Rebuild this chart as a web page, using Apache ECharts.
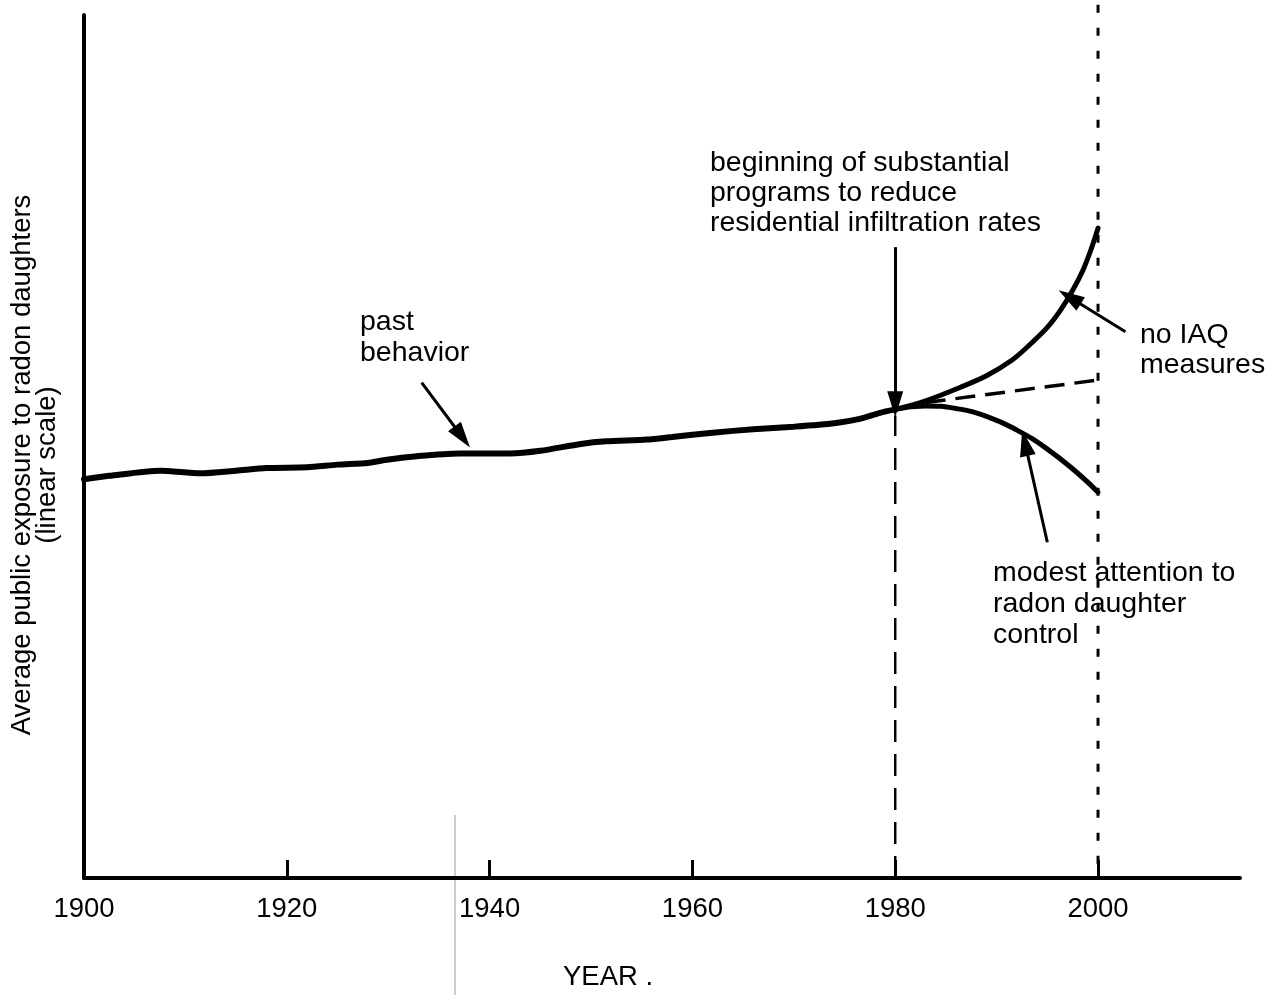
<!DOCTYPE html>
<html>
<head>
<meta charset="utf-8">
<script src="https://cdn.jsdelivr.net/npm/echarts@6/dist/echarts.min.js"></script>
<style>
  html, body { margin: 0; padding: 0; background: #fff; }
  #chart { width: 1276px; height: 995px; }
</style>
</head>
<body>
<div id="chart"></div>
<script>
// past behavior (linear scale, arbitrary units 0-100)
const pastYears = [1900, 1902.5, 1907.5, 1911.5, 1915, 1918, 1922, 1925, 1928, 1929.5, 1933, 1937, 1942, 1945, 1949, 1951.5, 1955.5, 1958, 1962, 1966, 1970, 1974, 1976.5, 1978.5, 1980]
const pastValues = [46.2, 46.6, 47.2, 46.9, 47.2, 47.5, 47.6, 47.9, 48.1, 48.4, 48.9, 49.2, 49.2, 49.5, 50.3, 50.6, 50.8, 51.1, 51.6, 52.0, 52.3, 52.7, 53.2, 53.9, 54.3]

// projections after 1980
const noIaqYears = [1980, 1983, 1986.5, 1989, 1991.5, 1993, 1995, 1996.3, 1997.5, 1998.5, 1999.3, 2000]
const noIaqValues = [54.3, 55.3, 56.9, 58.2, 60.0, 61.5, 63.8, 65.8, 68.1, 70.4, 72.8, 75.3]
const modestYears = [1980, 1983, 1986, 1989, 1992, 1995, 1998, 2000]
const modestValues = [54.3, 54.7, 54.4, 53.5, 51.9, 49.7, 46.9, 44.7]
const middleYears = [1983, 2000]
const middleValues = [55.1, 57.7]

// reference verticals
const startYear = 1980
const startTop = 53.6
const endYear = 2000
const endTop = 101.2

const tickYears = [1920, 1940, 1960, 1980, 2000]
const labelYears = [1900, 1920, 1940, 1960, 1980, 2000]

// annotation arrows: [tailYear, tailValue, headYear, headValue]
const arrows = [
  [1933.3, 57.4, 1937.3, 51.1],
  [1980, 73.1, 1980, 54.9],
  [2002.7, 63.3, 1997.2, 67.3],
  [1995.0, 38.9, 1992.8, 50.4]
]

const FONT = '"Liberation Sans", Arial, Helvetica, sans-serif'
const zip = (xs, ys) => xs.map((x, i) => [x, ys[i]])

const chart = echarts.init(document.getElementById('chart'))

chart.setOption({
  backgroundColor: '#fff',
  animation: false,
  grid: { left: 84, right: 36, top: 15, bottom: 117 },
  xAxis: {
    type: 'value',
    min: 1900,
    max: 2014,
    interval: 20,
    axisLine: { lineStyle: { color: '#000', width: 4 } },
    axisTick: {
      inside: true,
      length: 18,
      customValues: tickYears,
      lineStyle: { color: '#000', width: 3 }
    },
    axisLabel: {
      customValues: labelYears,
      formatter: v => String(v),
      color: '#000',
      fontSize: 27.5,
      fontFamily: FONT,
      margin: 17
    },
    splitLine: { show: false }
  },
  yAxis: {
    type: 'value',
    min: 0,
    max: 100,
    axisLine: { show: true, lineStyle: { color: '#000', width: 4 } },
    axisTick: { show: false },
    axisLabel: { show: false },
    splitLine: { show: false }
  },
  series: [
    {
      name: 'past behavior',
      type: 'line',
      data: zip(pastYears, pastValues),
      smooth: 0.25,
      showSymbol: false,
      lineStyle: { color: '#000', width: 6, cap: 'round' },
      markLine: {
        silent: true,
        symbol: ['none', 'triangle'],
        symbolSize: [16, 26],
        label: { show: false },
        lineStyle: { color: '#000', width: 3, type: 'solid' },
        data: arrows.map(a => [{ coord: [a[0], a[1]] }, { coord: [a[2], a[3]] }])
      }
    },
    {
      name: 'no IAQ measures',
      type: 'line',
      data: zip(noIaqYears, noIaqValues),
      smooth: 0.3,
      showSymbol: false,
      lineStyle: { color: '#000', width: 5, cap: 'round' }
    },
    {
      name: 'modest attention',
      type: 'line',
      data: zip(modestYears, modestValues),
      smooth: 0.5,
      showSymbol: false,
      lineStyle: { color: '#000', width: 5, cap: 'round' }
    },
    {
      name: 'middle',
      type: 'line',
      data: zip(middleYears, middleValues),
      showSymbol: false,
      lineStyle: { color: '#000', width: 3.5, type: [20, 10] }
    },
    {
      name: '1980 marker',
      type: 'line',
      data: [[startYear, 0], [startYear, startTop]],
      showSymbol: false,
      lineStyle: { color: '#000', width: 2.5, type: [22, 12] }
    },
    {
      name: '2000 marker',
      type: 'line',
      data: [[endYear, endTop], [endYear, 0]],
      clip: false,
      showSymbol: false,
      lineStyle: { color: '#000', width: 3, type: [8, 15] }
    }
  ],
  graphic: [
    {
      type: 'text', x: 35, y: 465, rotation: Math.PI / 2,
      style: {
        text: 'Average public exposure to radon daughters\n(linear scale)',
        fill: '#000', font: '27.5px ' + FONT, lineHeight: 25,
        align: 'center', verticalAlign: 'middle'
      }
    },
    {
      type: 'text', left: 360, top: 307,
      style: { text: 'past\nbehavior', fill: '#000', font: '28.5px ' + FONT, lineHeight: 31 }
    },
    {
      type: 'text', left: 710, top: 148,
      style: { text: 'beginning of substantial\nprograms to reduce\nresidential infiltration rates', fill: '#000', font: '28.5px ' + FONT, lineHeight: 30 }
    },
    {
      type: 'text', left: 1140, top: 320,
      style: { text: 'no IAQ\nmeasures', fill: '#000', font: '28.5px ' + FONT, lineHeight: 30 }
    },
    {
      type: 'text', left: 993, top: 558,
      style: { text: 'modest attention to\nradon daughter\ncontrol', fill: '#000', font: '28.5px ' + FONT, lineHeight: 31 }
    },
    {
      type: 'text', left: 563, top: 963,
      style: { text: 'YEAR .', fill: '#000', font: '27.5px ' + FONT }
    },
    {
      type: 'line',
      shape: { x1: 455, y1: 815, x2: 455, y2: 995 },
      style: { stroke: '#999', lineWidth: 1 }
    }
  ]
})
</script>
</body>
</html>
